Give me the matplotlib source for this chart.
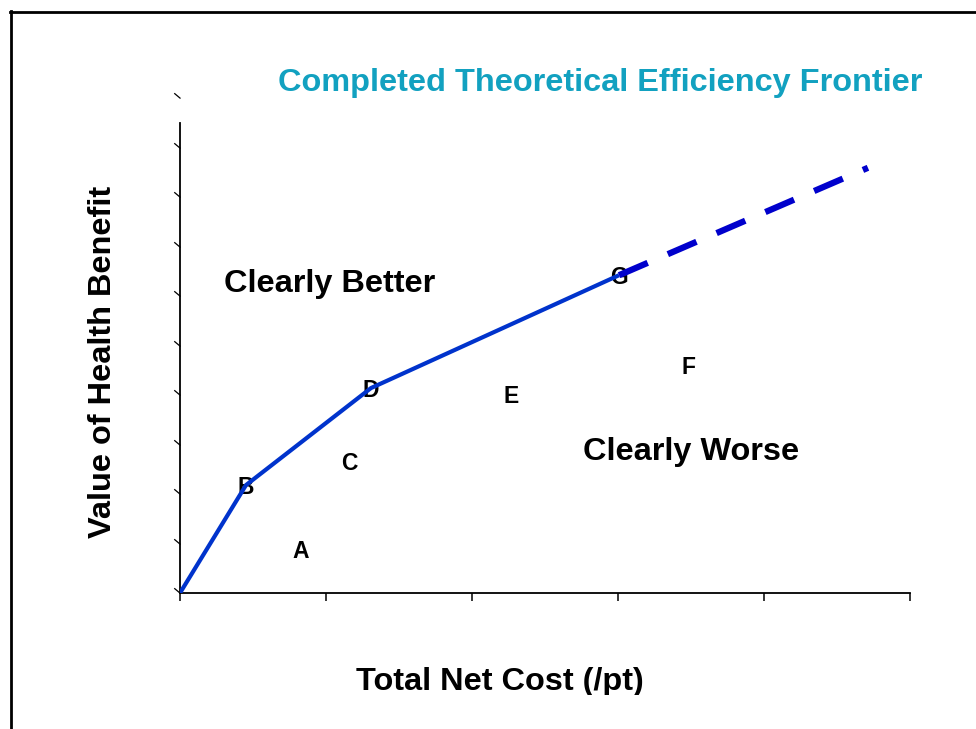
import matplotlib
matplotlib.use("Agg")
import matplotlib.pyplot as plt
from matplotlib.lines import Line2D

# frontier points (cost, benefit)
frontier_x = [0.0, 0.452, 1.308, 3.007]
frontier_y = [0.0, 2.18, 4.14, 6.42]
# extrapolated part of the frontier
extension_x = [3.007, 4.712]
extension_y = [6.42, 8.59]

# strategy labels
point_names = ["A", "B", "C", "D", "E", "F", "G"]
point_x = [0.829, 0.452, 1.158, 1.308, 2.267, 3.486, 3.007]
point_y = [0.87, 2.18, 2.65, 4.14, 4.02, 4.59, 6.42]

region_names = ["Clearly Better", "Clearly Worse"]
region_x = [1.027, 3.5]
region_y = [6.30, 2.91]

x_ticks = [0, 1, 2, 3, 4, 5]
y_ticks = [0, 1, 2, 3, 4, 5, 6, 7, 8, 9, 10]

plt.rcParams["font.family"] = ["Liberation Sans", "DejaVu Sans"]
plt.rcParams["font.weight"] = "bold"

W, H = 976, 729
fig = plt.figure(figsize=(W / 100, H / 100), dpi=100)
ax = fig.add_axes([180 / W, 1 - 593 / H, 730 / W, 495 / H])
ax.set_xlim(0, 5)
ax.set_ylim(0, 10)

# frame around the slide
fig.add_artist(Line2D([10.5 / W, 10.5 / W], [0, 1 - 11 / H], color="black", lw=2))
fig.add_artist(Line2D([10 / W, 1], [1 - 11.5 / H, 1 - 11.5 / H], color="black", lw=2))

for s in ["top", "right"]:
    ax.spines[s].set_visible(False)
ax.spines["left"].set_bounds(0, 9.5)
ax.spines["left"].set_linewidth(1.3)
ax.spines["bottom"].set_linewidth(1.3)

ax.set_xticks(x_ticks)
ax.set_xticklabels([])
ax.tick_params(axis="x", direction="out", length=6, width=1.1)
ax.set_yticks(y_ticks)
ax.set_yticklabels([])
ax.tick_params(axis="y", length=0)
# slanted y tick marks
slant = [(-0.5, 0.42), (0, 0)]
ax.plot([0] * len(y_ticks), y_ticks, linestyle="none", marker=slant,
        markersize=9, markeredgewidth=0.9, color="black", clip_on=False)

ax.plot(frontier_x, frontier_y, color="#0033CC", lw=3, solid_capstyle="butt", zorder=3)
ax.plot(extension_x, extension_y, color="#0000CC", lw=4.5, dashes=(5, 3.5), zorder=3)

for name, x, y in zip(point_names, point_x, point_y):
    ax.annotate(name, (x, y), xytext=(0, -2), textcoords="offset pixels",
                fontsize=16.5, fontweight="bold", ha="center", va="center", zorder=2)

for name, x, y in zip(region_names, region_x, region_y):
    ax.annotate(name, (x, y), xytext=(0, -3), textcoords="offset pixels",
                fontsize=23.4, fontweight="bold", ha="center", va="center")

fig.text(600 / W, 1 - 83 / H, "Completed Theoretical Efficiency Frontier",
         fontsize=23.4, fontweight="bold", color="#12A1C0", ha="center", va="center")
fig.text(103 / W, 1 - 362 / H, "Value of Health Benefit", fontsize=23.4,
         fontweight="bold", rotation=90, ha="center", va="center")
xl = fig.text(500 / W, 1 - 682 / H, "Total Net Cost (/pt)", fontsize=23.4,
              fontweight="bold", ha="center", va="center")
# the original cuts the x label just below the baseline
clip = plt.Rectangle((0, 1 - 695 / H), 1, 695 / H, transform=fig.transFigure,
                     fill=False, visible=False)
fig.add_artist(clip)
xl.set_clip_path(clip)

fig.savefig("out.png", dpi=100)
